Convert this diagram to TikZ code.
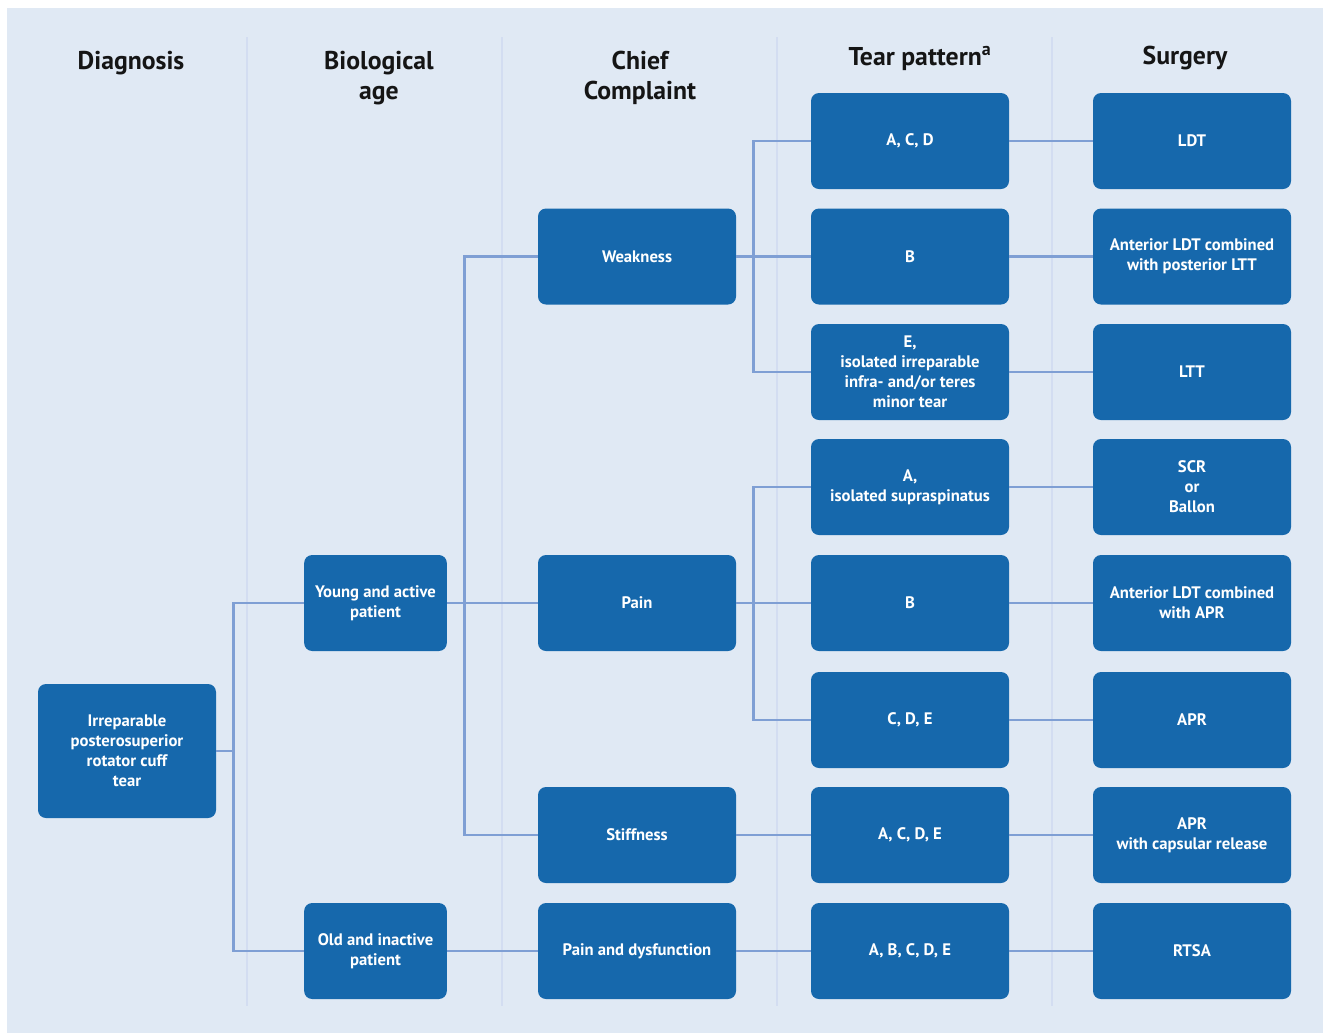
\documentclass[tikz,border=0pt]{standalone}
\usepackage{fontspec}
\setmainfont{PT Sans}
\usetikzlibrary{positioning,calc}
\definecolor{bgpale}{HTML}{E0E9F4}
\definecolor{boxblue}{HTML}{1668AC}
\definecolor{linkblue}{HTML}{7F9FD4}
\definecolor{sepline}{HTML}{D3DDF1}
\definecolor{headink}{HTML}{151515}
\tikzset{
  rc box/.style={fill=boxblue, rounded corners=6pt, text=white, align=center, inner sep=2pt,
                 font=\bfseries\fontsize{12.5}{15}\selectfont, minimum width=148.5pt, minimum height=72pt},
  rc age/.style={rc box, minimum width=107pt},
  rc diag/.style={rc box, minimum width=133.5pt, minimum height=100.5pt},
  rc head/.style={font=\bfseries\fontsize{19.3}{22.5}\selectfont, text=headink, align=center},
  rc link/.style={draw=linkblue, line width=2.2pt},
  rc sep/.style={draw=sepline, line width=2.2pt},
}

\begin{document}
\begin{tikzpicture}[x=0.75pt, y=-0.75pt]
  \useasboundingbox (0,0) rectangle (1323,1033);
  \fill[bgpale] (7,8) rectangle (1323,1033);
  % column separators
  \foreach \xs in {247,502,777,1052}
     \draw[rc sep] (\xs,37) -- (\xs,1006);
  % headings
  \node[rc head] (hdiag) at (131,63) {Diagnosis};
  \node[rc head] (hage) at (379,78) {Biological\\age};
  \node[rc head] (hcompl) at (640,78) {Chief\\Complaint};
  \node[rc head] (htear) at (920,58) {Tear pattern\textsuperscript{a}};
  \node[rc head] (hsurg) at (1185,58) {Surgery};
  % left part
  \node[rc diag] (diag) at (127,751) {Irreparable\\posterosuperior\\rotator cuff\\tear};
  \node[rc age] (young) at (375.5,603) {Young and active\\patient};
  \node[rc age] (old) at (375.5,951) {Old and inactive\\patient};
  \node[rc box] (weak) at (637,256.5) {Weakness};
  \node[rc box] (pain) at (637,603) {Pain};
  \node[rc box] (stiff) at (637,835) {Stiffness};
  \node[rc box] (dysf) at (637,951) {Pain and dysfunction};
  % tear patterns and surgery, row by row
  \foreach \i/\yy/\tp/\sg in {1/141/{A, C, D}/{LDT},
      2/256.5/{B}/{Anterior LDT combined\\with posterior LTT},
      3/372/{E,\\isolated irreparable\\infra- and/or teres\\minor tear}/{LTT},
      4/487/{A,\\isolated supraspinatus}/{SCR\\or\\Ballon},
      5/603/{B}/{Anterior LDT combined\\with APR},
      6/720/{C, D, E}/{APR},
      7/835/{A, C, D, E}/{APR\\with capsular release},
      8/951/{A, B, C, D, E}/{RTSA}} {
     \node[rc box] (t\i) at (910,\yy) {\tp};
     \node[rc box] (s\i) at (1192,\yy) {\sg};
     \draw[rc link] (t\i.east) -- (s\i.west);
  }
  % connectors
  \draw[rc link] (diag.east) -- ++(17,0) |- (young.west);
  \draw[rc link] (diag.east) -- ++(17,0) |- (old.west);
  \draw[rc link] (young.east) -- (pain.west);
  \draw[rc link] (young.east) ++(17,0) |- (weak.west);
  \draw[rc link] (young.east) ++(17,0) |- (stiff.west);
  \draw[rc link] (old.east) -- (dysf.west);
  \draw[rc link] (weak.east) -- (t2.west);
  \draw[rc link] (weak.east) ++(17,0) |- (t1.west);
  \draw[rc link] (weak.east) ++(17,0) |- (t3.west);
  \draw[rc link] (pain.east) -- (t5.west);
  \draw[rc link] (pain.east) ++(17,0) |- (t4.west);
  \draw[rc link] (pain.east) ++(17,0) |- (t6.west);
  \draw[rc link] (stiff.east) -- (t7.west);
  \draw[rc link] (dysf.east) -- (t8.west);
\end{tikzpicture}
\end{document}
